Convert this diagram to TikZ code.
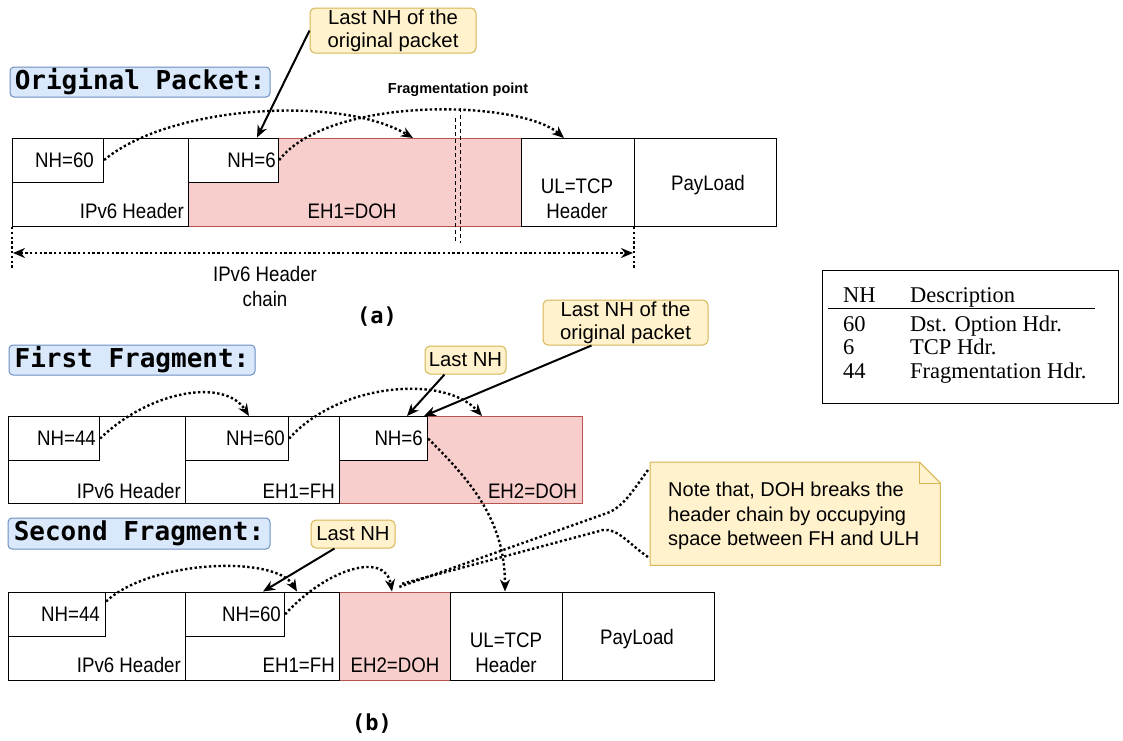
\documentclass[tikz,border=0pt]{standalone}
\usepackage{fontspec}
\setmainfont{Liberation Sans}
\newfontfamily\cellfont{Liberation Sans}[FakeStretch=0.89]
\newfontfamily\monofont{DejaVu Sans Mono}
\newfontfamily\tabfont{Liberation Serif}
\usetikzlibrary{arrows.meta,calc}

\definecolor{dohfill}{HTML}{F8CECC}
\definecolor{dohline}{HTML}{B85450}
\definecolor{notefill}{HTML}{FFF2CC}
\definecolor{noteline}{HTML}{D6B656}
\definecolor{headfill}{HTML}{DAE8FC}
\definecolor{headline}{HTML}{6C8EBF}

\tikzset{
  cell/.style={draw=black, line width=1.1pt, anchor=north west, inner sep=0pt, fill=white},
  pinkcell/.style={cell, fill=dohfill, draw=dohline},
  sz/.style 2 args={minimum width=#1pt, minimum height=#2pt},
  lbl/.style={font=\cellfont\fontsize{21}{25}\selectfont, inner sep=0pt, text height=15pt, text depth=0pt},
  lbltwo/.style={font=\cellfont\fontsize{21}{25}\selectfont, inner sep=0pt, align=center},
  heading/.style={draw=headline, fill=headfill, rounded corners=4pt, line width=1pt, inner sep=0pt,
    font=\monofont\bfseries\fontsize{26}{30}\selectfont},
  callout/.style={draw=noteline, fill=notefill, rounded corners=5pt, line width=1pt, inner sep=0pt,
    align=center, font=\fontsize{20.3}{23}\selectfont},
  caption/.style={font=\monofont\bfseries\fontsize{22}{26}\selectfont, inner sep=0pt},
  tab/.style={font=\tabfont\fontsize{22.5}{25}\selectfont, inner sep=0pt},
  ptr/.style={-{Stealth[length=12pt,width=10pt]}, line width=2pt},
  dots/.style={line width=2.4pt, dash pattern=on 2.4pt off 2.4pt},
  dotptr/.style={dots, -{Stealth[length=12pt,width=10pt]}},
}

\begin{document}
\begin{tikzpicture}[x=1pt,y=-1pt]
\useasboundingbox (0,0) rectangle (1123,740);

% ---------- (a) original packet ----------
\node[heading, sz={260}{30}] (headA) at (140,82) {Original Packet:};

\node[pinkcell, sz={333}{88}] (dohA) at (188,137.5) {};
\node[cell, sz={176}{88}] (ipA) at (12,137.5) {};
\node[cell, sz={113}{88}] (tcpA) at (521,137.5) {};
\node[cell, sz={142}{88}] (payA) at (634,137.5) {};
\node[cell, sz={91}{44}] (nhA1) at (12,137.5) {};
\node[cell, sz={90}{44}] (nhA2) at (188,137.5) {};

\node[lbl, anchor=east] (nhA1t) at (94,160) {NH=60};
\node[lbl, anchor=east] (nhA2t) at (276,160) {NH=6};
\node[lbl, anchor=east] (ipAt) at (184,211) {IPv6 Header};
\node[lbl] (dohAt) at (352,211) {EH1=DOH};
\node[lbltwo] (tcpAt) at (577,199) {UL=TCP\\Header};
\node[lbl] (payAt) at (708,183) {PayLoad};

% fragmentation point
\node[font=\bfseries\fontsize{14.5}{17}\selectfont, inner sep=0pt] (fragpt) at (458,90) {Fragmentation point};
\coordinate (fragL1) at (455,118);
\coordinate (fragL2) at (455,243);
\coordinate (fragR1) at (460,108);
\coordinate (fragR2) at (460,243);
\draw[line width=1pt, dash pattern=on 4pt off 3pt] (fragL1) -- (fragL2);
\draw[line width=1pt, dash pattern=on 4pt off 3pt] (fragR1) -- (fragR2);

% next-header pointers
\coordinate (tA1) at (413,138);
\coordinate (tA2) at (564,138);
\draw[dotptr] (nhA1.east) .. controls (170,105) and (340,95) .. (tA1);
\draw[dotptr] (nhA2.east) .. controls (330,95) and (520,100) .. (tA2);

\node[callout, sz={166}{45}] (calA) at (393,30.5) {Last NH of the\\original packet};
\coordinate (tA3) at (257,137.5);
\draw[ptr] (calA.west) -- (tA3);

% header chain span
\coordinate (chL1) at (12,227);
\coordinate (chL2) at (12,269);
\coordinate (chR1) at (634,227);
\coordinate (chR2) at (634,269);
\draw[dots] (chL1) -- (chL2);
\draw[dots] (chR1) -- (chR2);
\coordinate (chA) at (13,253);
\coordinate (chB) at (633,253);
\draw[dots, {Stealth[length=12pt,width=10pt]}-{Stealth[length=12pt,width=10pt]}] (chA) -- (chB);
\node[lbltwo] (chain) at (265,286) {IPv6 Header\\chain};

\node[caption] (capA) at (377,317) {(a)};

% ---------- NH table ----------
\node[draw, line width=1.4pt, anchor=north west, inner sep=0pt, sz={296}{133}] (tbl) at (822,270) {};
\node[tab, anchor=base west] (thNH) at (843,302) {NH};
\node[tab, anchor=base west] (thDesc) at (910,302) {Description};
\draw[line width=1pt] (828,308) -- (1095,308);
\node[tab, anchor=base west] (r1a) at (843,331) {60};
\node[tab, anchor=base west] (r1b) at (910,331) {Dst. Option Hdr.};
\node[tab, anchor=base west] (r2a) at (843,354.5) {6};
\node[tab, anchor=base west] (r2b) at (910,354.5) {TCP Hdr.};
\node[tab, anchor=base west] (r3a) at (843,378) {44};
\node[tab, anchor=base west] (r3b) at (910,378) {Fragmentation Hdr.};

% ---------- (b) first fragment ----------
\node[heading, sz={246}{30}] (headB) at (132,360) {First Fragment:};

\node[pinkcell, sz={243}{87}] (dohB) at (339,416) {};
\node[cell, sz={177}{87}] (ipB) at (8,416) {};
\node[cell, sz={154}{87}] (ehB) at (185,416) {};
\node[cell, sz={91}{44}] (nhB1) at (8,416) {};
\node[cell, sz={103}{44}] (nhB2) at (185,416) {};
\node[cell, sz={88}{44}] (nhB3) at (339,416) {};

\node[lbl, anchor=east] (nhB1t) at (96,438) {NH=44};
\node[lbl, anchor=east] (nhB2t) at (285,438) {NH=60};
\node[lbl, anchor=east] (nhB3t) at (423,438) {NH=6};
\node[lbl, anchor=east] (ipBt) at (181,491) {IPv6 Header};
\node[lbl, anchor=east] (ehBt) at (335,491) {EH1=FH};
\node[lbl, anchor=east] (dohBt) at (577,491) {EH2=DOH};

\coordinate (tB1) at (249,416);
\coordinate (tB2) at (482,416);
\draw[dotptr] (nhB1.east) .. controls (150,390) and (225,378) .. (tB1);
\draw[dotptr] (nhB2.east) .. controls (340,382) and (445,375) .. (tB2);

\node[callout, sz={81}{28}] (lastB) at (465.5,360) {Last NH};
\node[callout, sz={165}{45}] (calB) at (625.5,322.5) {Last NH of the\\original packet};
\coordinate (tB3) at (407,416);
\coordinate (tB4) at (424,416);
\draw[ptr] (lastB.south west) ++(20,0) coordinate (lastBs) -- (tB3);
\draw[ptr] (calB.south west) ++(49,0) coordinate (calBs) -- (tB4);

% ---------- second fragment ----------
\node[heading, sz={262}{31}] (headC) at (139,533.5) {Second Fragment:};

\node[pinkcell, sz={111}{88}] (dohC) at (339,591.5) {};
\node[cell, sz={177}{88}] (ipC) at (8,591.5) {};
\node[cell, sz={154}{88}] (ehC) at (185,591.5) {};
\node[cell, sz={112}{88}] (tcpC) at (450,591.5) {};
\node[cell, sz={152}{88}] (payC) at (562,591.5) {};
\node[cell, sz={97}{44.5}] (nhC1) at (8,591.5) {};
\node[cell, sz={99}{44.5}] (nhC2) at (185,591.5) {};

\node[lbl, anchor=east] (nhC1t) at (100,614) {NH=44};
\node[lbl, anchor=east] (nhC2t) at (281,614) {NH=60};
\node[lbl, anchor=east] (ipCt) at (181,665) {IPv6 Header};
\node[lbl, anchor=east] (ehCt) at (335,665) {EH1=FH};
\node[lbl] (dohCt) at (395,665) {EH2=DOH};
\node[lbltwo] (tcpCt) at (506,653) {UL=TCP\\Header};
\node[lbl] (payCt) at (637,637) {PayLoad};

\coordinate (tC1) at (297,591.5);
\coordinate (tC2) at (392,591.5);
\coordinate (tC3) at (505,591.5);
\draw[dotptr] (nhC1.north east) ++(0,10) coordinate (nhC1s) .. controls (150,560) and (275,555) .. (tC1);
\draw[dotptr] (nhC2.east) .. controls (325,570) and (385,550) .. (tC2);
\draw[dotptr] (nhB3.east) .. controls (470,480) and (505,520) .. (tC3);

\node[callout, sz={84}{28}] (lastC) at (353,534) {Last NH};
\coordinate (tC4) at (263,591.5);
\draw[ptr] (lastC.south west) ++(24,0) coordinate (lastCs) -- (tC4);

% note
\node[anchor=north west, inner sep=0pt, sz={290}{103}] (note) at (650,462) {};
\draw[draw=noteline, fill=notefill, line width=1pt]
  (note.north west) -- ($(note.north east)+(-21,0)$) -- ($(note.north east)+(0,21)$)
  -- (note.south east) -- (note.south west) -- cycle;
\draw[draw=noteline, line width=1pt]
  ($(note.north east)+(-21,0)$) -- ($(note.north east)+(-21,21)$) -- ($(note.north east)+(0,21)$);
\node[anchor=west, align=left, inner sep=0pt, font=\fontsize{20}{24.5}\selectfont] (notet) at (668,516)
  {Note that, DOH breaks the\\header chain by occupying\\space between FH and ULH};

\coordinate (nU) at (648,470);
\coordinate (nL) at (648,557);
\coordinate (dU) at (399,587);
\coordinate (dL) at (401,584);
\draw[dots] (nU) .. controls (632,492) and (624,505) .. (610,512) -- (dU);
\draw[dots] (nL) .. controls (630,545) and (618,528) .. (603,530) -- (dL);

\node[caption] (capB) at (372,724) {(b)};
\end{tikzpicture}
\end{document}
